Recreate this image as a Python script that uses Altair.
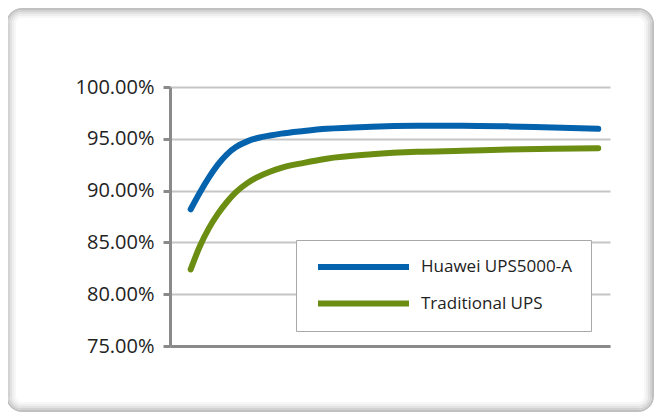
import altair as alt
import pandas as pd

# Load rate (%) positions along the hidden x axis
load = [10, 12, 14, 16, 18, 20, 22.5, 25, 27.5, 30, 35, 40, 50, 60, 70, 80, 90, 100]
huawei = [88.2, 89.8, 91.25, 92.5, 93.5, 94.2, 94.75, 95.1, 95.32, 95.5,
          95.75, 95.96, 96.16, 96.25, 96.27, 96.2, 96.08, 95.96]
traditional = [82.4, 84.6, 86.35, 87.75, 88.9, 89.85, 90.72, 91.35, 91.82, 92.2,
               92.68, 93.08, 93.5, 93.74, 93.84, 93.97, 94.05, 94.08]
series_names = ["Huawei UPS5000-A", "Traditional UPS"]
series_colors = ["#0563ae", "#6a8d12"]
y_ticks = [0.75, 0.80, 0.85, 0.90, 0.95, 1.00]

rows = []
for name, vals in zip(series_names, [huawei, traditional]):
    for x, v in zip(load, vals):
        rows.append({"load": x, "eff": v / 100.0, "series": name})
df = pd.DataFrame(rows)

FONT = "Open Sans"

# decorative rounded frame (pixel positions relative to the plot area)
frame_layers = []
for inset, col in [(0, "#c0c0c0"), (2, "#d2d2d2"), (4, "#e2e2e2"), (6, "#eeeeee"), (8, "#f7f7f7")]:
    frame_layers.append(
        alt.Chart(alt.Data(values=[{}])).mark_rect(
            fillOpacity=0, stroke=col, strokeWidth=2, cornerRadius=max(15 - inset, 4)
        ).encode(
            x=alt.value(-163 + inset), x2=alt.value(483 - inset),
            y=alt.value(-78 + inset), y2=alt.value(324 - inset)
        )
    )

lines = alt.Chart(df).mark_line(
    strokeWidth=6, strokeCap="round", interpolate="monotone"
).encode(
    x=alt.X("load:Q", scale=alt.Scale(domain=[5.43, 102.6], nice=False, zero=False),
            axis=alt.Axis(title=None, labels=False, ticks=False, grid=False,
                          domainColor="#8a8a8a", domainWidth=3)),
    y=alt.Y("eff:Q", scale=alt.Scale(domain=[0.75, 1.0], nice=False, zero=False),
            axis=alt.Axis(title=None, values=y_ticks, format=".2%",
                          grid=True, gridColor="#c6c6c6", gridWidth=2,
                          domainColor="#8a8a8a", domainWidth=3,
                          tickColor="#8a8a8a", tickWidth=3, tickSize=7,
                          labelPadding=9, labelFont=FONT, labelFontSize=20,
                          labelColor="#222222")),
    color=alt.Color("series:N",
                    scale=alt.Scale(domain=series_names, range=series_colors),
                    legend=alt.Legend(title=None, orient="none", legendX=126, legendY=153,
                                      symbolType="stroke", symbolSize=8281,
                                      symbolStrokeWidth=6, labelOffset=9,
                                      clipHeight=16,
                                      labelFont=FONT, labelFontSize=17,
                                      labelColor="#222222", rowPadding=19.6,
                                      padding=19, fillColor="white",
                                      strokeColor="#a8a8a8", labelLimit=400)),
)

chart = alt.layer(*frame_layers, lines).properties(
    width=440, height=259,
    autosize=alt.AutoSizeParams(type="none"),
    padding={"left": 162, "top": 79, "right": 44, "bottom": 66},
    background="white",
).configure_view(stroke=None)

chart.save("out.html", embed_options={"renderer": "svg", "actions": False})
